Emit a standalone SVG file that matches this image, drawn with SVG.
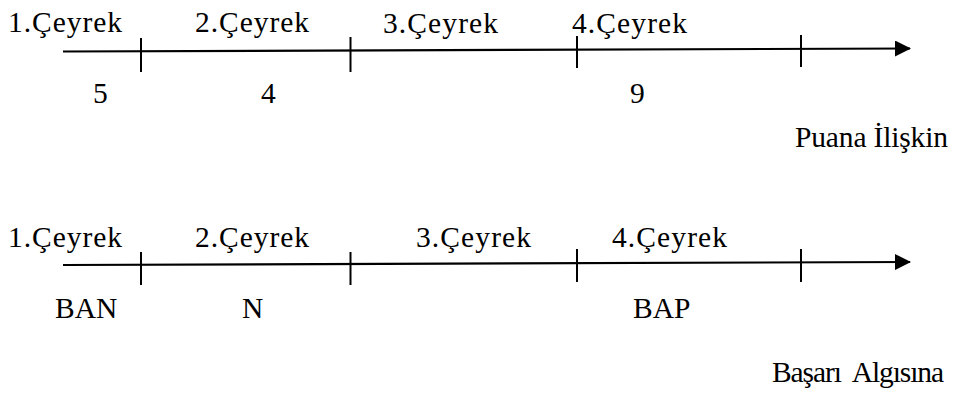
<svg xmlns="http://www.w3.org/2000/svg" width="957" height="403" viewBox="0 0 957 403">
<style>
text{font-size:29.5px;fill:#000;white-space:pre}
.ax{stroke:#000;stroke-width:2.2;fill:none}
.tk{stroke:#000;stroke-width:2;fill:none}
</style>
<defs>
<marker id="ah" viewBox="0 0 16 16" refX="15" refY="8" markerWidth="16" markerHeight="16" markerUnits="userSpaceOnUse" orient="auto">
<polygon points="0,0 16,8 0,16" fill="#000"/>
</marker>
</defs>
<rect width="957" height="403" fill="#fff"/>
<g id="connectors">
<g id="axis1">
<line class="ax" x1="63" y1="51.5" x2="910" y2="48.5" marker-end="url(#ah)"/>
<line class="tk" x1="141" y1="38" x2="141" y2="72"/>
<line class="tk" x1="350.5" y1="37" x2="350.5" y2="72"/>
<line class="tk" x1="577" y1="36" x2="577" y2="68"/>
<line class="tk" x1="801" y1="35" x2="801" y2="67"/>
</g>
<g id="axis2">
<line class="ax" x1="63" y1="265" x2="910" y2="262" marker-end="url(#ah)"/>
<line class="tk" x1="141" y1="252" x2="141" y2="285"/>
<line class="tk" x1="350.5" y1="252" x2="350.5" y2="285"/>
<line class="tk" x1="577" y1="249" x2="577" y2="282"/>
<line class="tk" x1="801" y1="249" x2="801" y2="282"/>
</g>
</g>
<g id="row1-labels" font-family="Liberation Serif, Times New Roman, serif">
<text x="8" y="32" textLength="114" lengthAdjust="spacing">1.Çeyrek</text>
<text x="195" y="32" textLength="114" lengthAdjust="spacing">2.Çeyrek</text>
<text x="383" y="33" textLength="115" lengthAdjust="spacing">3.Çeyrek</text>
<text x="572" y="33" textLength="115" lengthAdjust="spacing">4.Çeyrek</text>
<text x="93" y="103">5</text>
<text x="261" y="103">4</text>
<text x="630" y="103">9</text>
<text x="795" y="147" textLength="153" lengthAdjust="spacing">Puana İlişkin</text>
</g>
<g id="row2-labels" font-family="Liberation Serif, Times New Roman, serif">
<text x="8" y="247" textLength="114" lengthAdjust="spacing">1.Çeyrek</text>
<text x="195" y="247" textLength="114" lengthAdjust="spacing">2.Çeyrek</text>
<text x="416" y="247" textLength="115" lengthAdjust="spacing">3.Çeyrek</text>
<text x="612" y="247" textLength="115" lengthAdjust="spacing">4.Çeyrek</text>
<text x="55" y="318">BAN</text>
<text x="242" y="318">N</text>
<text x="633" y="318">BAP</text>
<text x="772" y="382" textLength="172" lengthAdjust="spacing">Başarı  Algısına</text>
</g>
</svg>
